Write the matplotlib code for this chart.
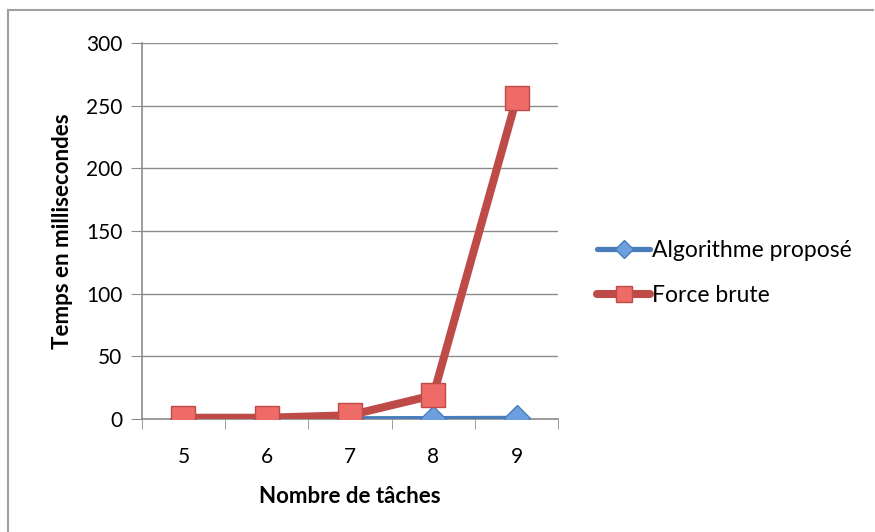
import matplotlib.pyplot as plt
from matplotlib.lines import Line2D

# Temps d'exécution (ms) selon le nombre de tâches
taches = [5, 6, 7, 8, 9]
algo_propose = [0.1, 0.1, 0.2, 0.3, 0.5]
force_brute = [1, 1, 3, 19, 256]
yticks = [0, 50, 100, 150, 200, 250, 300]

plt.rcParams['font.family'] = ['Lato', 'DejaVu Sans']

fig = plt.figure(figsize=(8.75, 5.32), dpi=100)
ax = fig.add_axes([0.162, 0.2124, 0.476, 0.7066])

bleu, bleu_clair = '#4A7EBB', '#6C9FE0'
rouge, rouge_clair = '#BE4B48', '#EE6B68'

pos = list(range(len(taches)))
ax.plot(pos, algo_propose, color=bleu, lw=3.8, marker='D', ms=13,
        mfc=bleu_clair, mec=bleu, mew=1, zorder=3, solid_capstyle='round')
ax.plot(pos, force_brute, color=rouge, lw=5.8, marker='s', ms=17,
        mfc=rouge_clair, mec=rouge, mew=1, zorder=4, solid_joinstyle='round')

ax.set_xlim(-0.5, len(taches) - 0.5)
ax.set_ylim(0, 300)
ax.set_yticks(yticks)
ax.set_xticks(pos)
ax.set_xticklabels([str(t) for t in taches])
ax.set_xticks([p + 0.5 for p in [-1] + pos], minor=True)

ax.grid(axis='y', color='#8c8c8c', lw=1)
ax.set_axisbelow(True)
for s in ['top', 'right']:
    ax.spines[s].set_visible(False)
for s in ['left', 'bottom']:
    ax.spines[s].set_color('#8c8c8c')
    ax.spines[s].set_linewidth(1.2)
ax.tick_params(axis='y', direction='out', length=8, color='#8c8c8c',
               labelsize=15, pad=6)
ax.tick_params(axis='x', which='major', length=0, labelsize=15, pad=20)
ax.tick_params(axis='x', which='minor', direction='out', length=7,
               color='#8c8c8c')

ax.set_xlabel('Nombre de tâches', fontsize=16, fontweight='bold', labelpad=14)
ax.set_ylabel('Temps en millisecondes', fontsize=16, fontweight='bold',
              labelpad=9)

handles = [
    Line2D([], [], color=bleu, lw=3.8, marker='D', ms=9, mfc=bleu_clair,
           mec=bleu, solid_capstyle='round'),
    Line2D([], [], color=rouge, lw=5.8, marker='s', ms=12, mfc=rouge_clair,
           mec=rouge, solid_capstyle='round'),
]
fig.legend(handles, ['Algorithme proposé', 'Force brute'],
           loc='center left', bbox_to_anchor=(0.672, 0.487), frameon=False,
           fontsize=16.5, handlelength=2.3, handletextpad=0.1,
           labelspacing=1.05, borderaxespad=0)

# cadre du graphique (bords haut et gauche)
fig.add_artist(Line2D([0.0095, 0.0095], [0, 0.981], transform=fig.transFigure,
                      color='#a0a0a0', lw=1.5))
fig.add_artist(Line2D([0.0095, 0.998], [0.981, 0.981], transform=fig.transFigure,
                      color='#a0a0a0', lw=1.5))

fig.savefig('out.png', dpi=100)
